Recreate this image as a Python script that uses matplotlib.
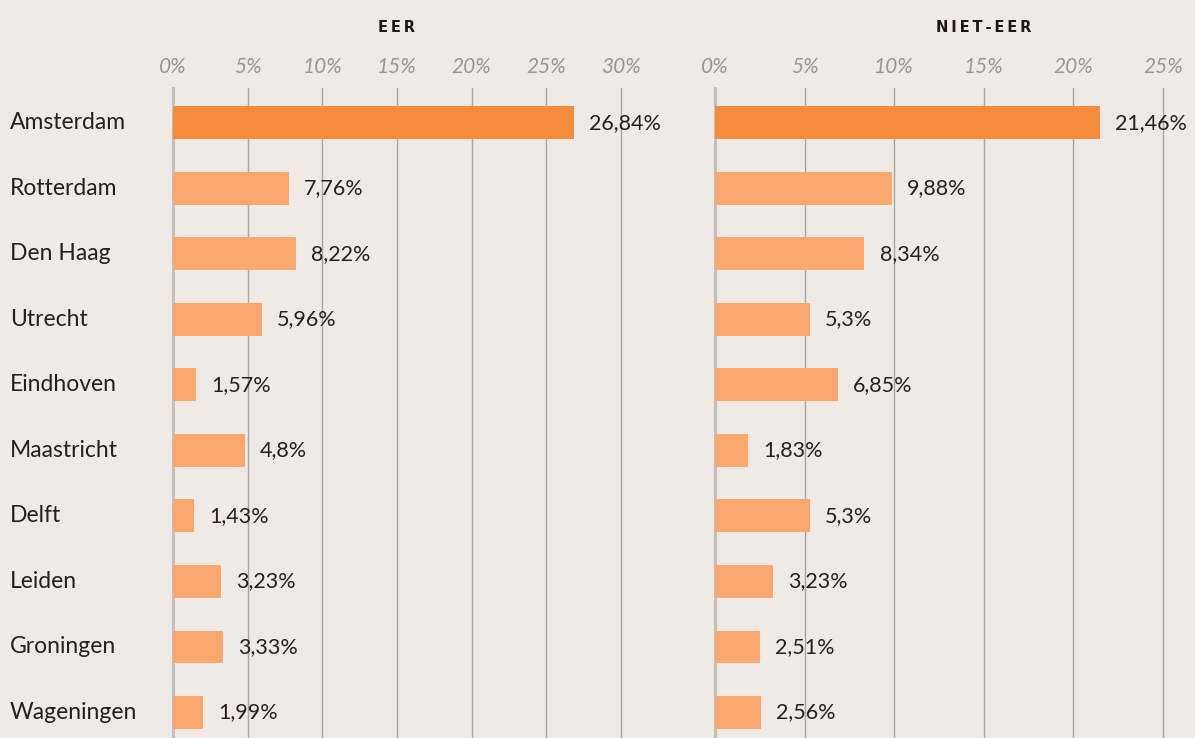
import numpy as np
import matplotlib
matplotlib.use("Agg")
import matplotlib.pyplot as plt
import matplotlib.transforms as mtransforms

plt.rcParams['font.family'] = ['Lato', 'DejaVu Sans']

cities = ['Amsterdam', 'Rotterdam', 'Den Haag', 'Utrecht', 'Eindhoven',
          'Maastricht', 'Delft', 'Leiden', 'Groningen', 'Wageningen']
eer = [26.84, 7.76, 8.22, 5.96, 1.57, 4.8, 1.43, 3.23, 3.33, 1.99]
niet_eer = [21.46, 9.88, 8.34, 5.3, 6.85, 1.83, 5.3, 3.23, 2.51, 2.56]
ticks_eer = [0, 5, 10, 15, 20, 25, 30]
ticks_niet = [0, 5, 10, 15, 20, 25]

bg = '#f0e9e6'
dark = '#f48c3d'
light = '#f9a970'

fig = plt.figure(figsize=(11.95, 7.38), dpi=100, facecolor=bg)

ax1 = fig.add_axes([173/1195, 0, 448/1195, 650/738])
ax2 = fig.add_axes([715/1195, 0, 537.6/1195, 650/738])


def fmt(v):
    s = ('%.2f' % v).rstrip('0').rstrip('.')
    return s.replace('.', ',') + '%'


for ax, vals, ticks, title in [(ax1, eer, ticks_eer, 'EER'),
                               (ax2, niet_eer, ticks_niet, 'NIET-EER')]:
    ax.set_facecolor(bg)
    y = np.arange(len(cities))
    colors = [dark] + [light] * (len(cities) - 1)
    ax.barh(y, vals, height=0.5, color=colors, zorder=2)
    ax.set_xlim(0, 30)
    ax.set_ylim(9.39, -0.53)
    for t in ticks:
        if t == 0:
            ax.axvline(t, color='#c4c0be', lw=2.2, zorder=1, clip_on=False)
        else:
            ax.axvline(t, color='#a8a5a3', lw=1.0, zorder=1, clip_on=False)
    ax.set_xticks(ticks)
    ax.set_xticklabels(['%d%%' % t for t in ticks], fontsize=15,
                       color='#9a9795', style='italic')
    ax.xaxis.tick_top()
    ax.tick_params(axis='x', length=0, pad=8)
    ax.set_yticks([])
    for s in ax.spines.values():
        s.set_visible(False)
    for yi, v in zip(y, vals):
        ax.annotate(fmt(v), (v, yi), xytext=(11, 0), textcoords='offset points',
                    va='center', ha='left', fontsize=15.5, color='#222222', zorder=3)
    ax.text(0.5, 1.0 + 61/650, '\u2009'.join(title), transform=ax.transAxes,
            ha='center', va='center', fontsize=10.5, fontweight='bold',
            family='DejaVu Sans', color='#1a1a1a')

trans = mtransforms.blended_transform_factory(fig.transFigure, ax1.transData)
for i, c in enumerate(cities):
    fig.text(10/1195, i, c, transform=trans, ha='left', va='center',
             fontsize=16.5, color='#222222')

fig.savefig('out.png', dpi=100, facecolor=bg)
